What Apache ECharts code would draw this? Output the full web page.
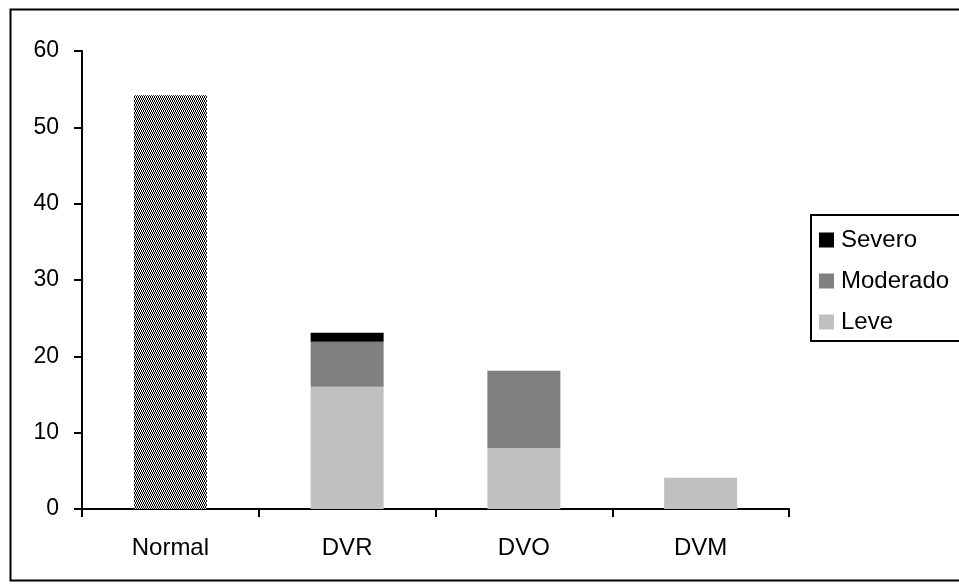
<!DOCTYPE html>
<html>
<head>
<meta charset="utf-8">
<script src="https://cdn.jsdelivr.net/npm/echarts@6/dist/echarts.min.js"></script>
<style>
html,body{margin:0;padding:0;background:#fff;}
#chart{width:959px;height:587px;}
</style>
</head>
<body>
<div id="chart"></div>
<script>
var categories = ['Normal', 'DVR', 'DVO', 'DVM'];
var normalData = [54.2, '-', '-', '-'];
var leveData = ['-', 16.0, 8.0, 4.1];
var moderadoData = ['-', 5.9, 10.1, '-'];
var severoData = ['-', 1.2, '-', '-'];
var yTicks = {min: 0, max: 60, interval: 10};

// fine hatch for the Normal bar
function makePattern() {
	var c = document.createElement('canvas');
	c.width = 4;
	c.height = 4;
	var ctx = c.getContext('2d');
	ctx.fillStyle = '#ffffff';
	ctx.fillRect(0, 0, 4, 4);
	ctx.fillStyle = '#000000';
	for (var x = 0; x < 4; x++) {
		for (var y = 0; y < 4; y++) {
			if ((x + Math.floor(y / 2)) % 2 == 0) ctx.fillRect(x, y, 1, 1);
		}
	}
	return c;
}

var font = 'Liberation Sans, Arial, sans-serif';
var myChart = echarts.init(document.getElementById('chart'));
var option = {
	animation: false,
	backgroundColor: '#ffffff',
	grid: {left: 82, right: 170, top: 51, bottom: 78, containLabel: false},
	legend: {
		data: ['Severo', 'Moderado', 'Leve'],
		orient: 'vertical',
		left: 811,
		top: 215,
		padding: [13, 60, 7, 8],
		itemWidth: 15,
		itemHeight: 15,
		itemGap: 17,
		borderColor: '#000',
		borderWidth: 2,
		borderRadius: 0,
		icon: 'rect',
		textStyle: {fontFamily: font, fontSize: 24, color: '#000', padding: [0, 0, 0, 2]}
	},
	xAxis: {
		type: 'category',
		data: categories,
		axisLine: {lineStyle: {color: '#000', width: 2}},
		axisTick: {show: true, length: 8, lineStyle: {color: '#000', width: 2}},
		axisLabel: {fontFamily: font, fontSize: 24, color: '#000', margin: 27}
	},
	yAxis: {
		type: 'value',
		min: yTicks.min,
		max: yTicks.max,
		interval: yTicks.interval,
		axisLine: {show: true, lineStyle: {color: '#000', width: 2}},
		axisTick: {show: true, length: 8, lineStyle: {color: '#000', width: 2}},
		splitLine: {show: false},
		axisLabel: {fontFamily: font, fontSize: 23, color: '#000', margin: 23}
	},
	series: [
		{
			name: 'Normal', type: 'bar', stack: 'a', barWidth: 73,
			data: normalData,
			itemStyle: {color: {image: makePattern(), repeat: 'repeat'}}
		},
		{name: 'Leve', type: 'bar', stack: 'a', barWidth: 73, data: leveData, itemStyle: {color: '#c0c0c0'}},
		{name: 'Moderado', type: 'bar', stack: 'a', barWidth: 73, data: moderadoData, itemStyle: {color: '#808080'}},
		{name: 'Severo', type: 'bar', stack: 'a', barWidth: 73, data: severoData, itemStyle: {color: '#000000'}}
	],
	graphic: [{
		type: 'rect',
		left: 8, top: 7,
		shape: {x: 0, y: 0, width: 960, height: 571},
		style: {fill: null, stroke: '#000', lineWidth: 2},
		silent: true
	}]
};
myChart.setOption(option);
</script>
</body>
</html>
